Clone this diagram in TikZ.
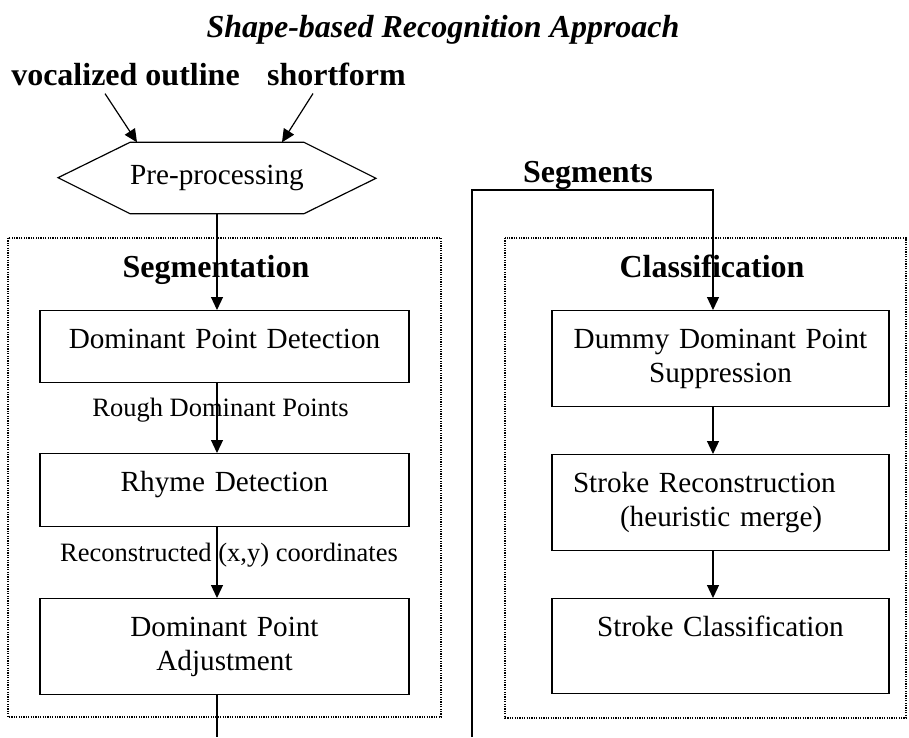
\documentclass[tikz,border=0pt]{standalone}
\usepackage{fontspec}
\setmainfont{Liberation Serif}
\usetikzlibrary{arrows.meta}
\begin{document}
\begin{tikzpicture}[x=1pt,y=-1pt,
  flow/.style={line width=1.2pt,-{Triangle[width=12pt,length=13pt]}},
  wire/.style={line width=1.2pt},
  group/.style={line width=1.2pt,dash pattern=on 1.2pt off 1.2pt},
  procL/.style={draw,line width=1.3pt,inner sep=0pt,anchor=north,text height=38pt,
    text width=369pt,align=center,font=\fontsize{29.2}{34}\selectfont},
  procR/.style={procL,text width=337pt},
  tag/.style={inner sep=0pt,anchor=base,font=\fontsize{26.5}{30}\selectfont},
  head/.style={inner sep=0pt,anchor=base,font=\fontsize{32}{36}\selectfont\bfseries}]
\useasboundingbox (0,0) rectangle (909,737);

\node[head,font=\fontsize{32}{36}\selectfont\bfseries\itshape] (title) at (443,37) {Shape-based Recognition Approach};
\node[head] (voc) at (125.5,85) {vocalized outline};
\node[head] (short) at (336.5,85) {shortform};

% pre-processing hexagon
\node[inner sep=0pt,minimum width=145pt,minimum height=71pt,font=\fontsize{29.2}{34}\selectfont] (prep) at (217,178) {Pre-processing};
\draw[wire] (prep.north west) -- (prep.north east) -- ++(72,36) -- (prep.south east)
  -- (prep.south west) -- ++(-72,-36) -- cycle;
\draw[flow] ([xshift=-20.5pt,yshift=-8pt]voc.south) -- ([xshift=-80pt]prep.north);
\draw[flow] ([xshift=-23.5pt,yshift=-8pt]short.south) -- ([xshift=65pt]prep.north);

% segmentation
\draw[group] (8,238) rectangle (441,717);
\node[head] (segm) at (216,277) {Segmentation};
\node[procL,text depth=34pt] (detect) at (224.5,310) {Dominant Point Detection};
\node[procL,text depth=35pt] (rhyme) at (224.5,453) {Rhyme Detection};
\node[procL,text depth=58pt] (adjust) at (224.5,598) {Dominant Point\\Adjustment};
\node[tag] (rough) at (220.5,416) {Rough Dominant Points};
\node[tag] (recxy) at (229,561) {Reconstructed (x,y) coordinates};
\coordinate (leftout) at (217,737);

\draw[flow] (prep.south) -- (detect.north -| prep.south);
\draw[flow] (detect.south -| prep.south) -- (rhyme.north -| prep.south);
\draw[flow] (rhyme.south -| prep.south) -- (adjust.north -| prep.south);
\draw[wire] (adjust.south -| prep.south) -- (leftout);

% classification
\draw[group] (505,238) rectangle (906,718);
\node[head] (clas) at (712,277) {Classification};
\node[procR,text depth=58pt] (dummy) at (720.5,310) {Dummy Dominant Point\\Suppression};
\node[procR,text depth=58pt,align=left] (recon) at (720.5,454)
  {\hspace*{21pt}Stroke Reconstruction\\\hspace*{68pt}(heuristic merge)};
\node[procR,text depth=57pt] (strokecls) at (720.5,598) {Stroke Classification};

\coordinate (segin) at (472,737);
\coordinate (segturn) at (472,190);
\coordinate (segtop) at (713,190);
\node[head] (segs) at (588,182) {Segments};
\draw[flow] (segin) -- (segturn) -- (segtop) -- (segtop |- dummy.north);
\draw[flow] (dummy.south -| segtop) -- (recon.north -| segtop);
\draw[flow] (recon.south -| segtop) -- (strokecls.north -| segtop);
\end{tikzpicture}
\end{document}
